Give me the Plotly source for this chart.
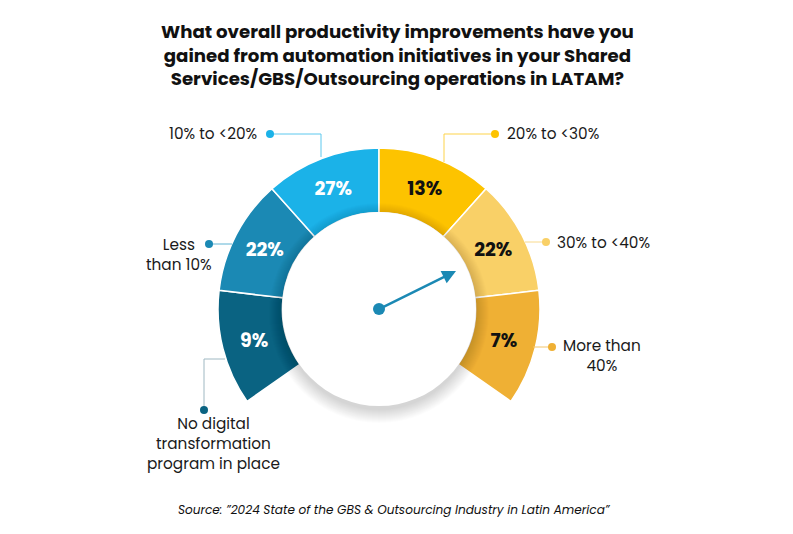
import plotly.graph_objects as go

# ---------------- data ----------------
categories = ["No digital transformation program in place", "Less than 10%",
              "10% to <20%", "20% to <30%", "30% to <40%", "More than 40%"]
shares = [9, 22, 27, 13, 22, 7]
# the graphic draws every answer as an equal-angle segment of a 250-degree gauge
segment_weights = [1, 1, 1, 1, 1, 1]
gap_weight = 2.64
label_texts = ["No digital<br>transformation<br>program in place", "Less<br>than 10%",
               "10% to &lt;20%", "20% to &lt;30%", "30% to &lt;40%", "More than<br>40%"]
title_text = ("What overall productivity improvements have you<br>"
              "gained from automation initiatives in your Shared<br>"
              "Services/GBS/Outsourcing operations in LATAM?")
source_text = "Source: \u201d2024 State of the GBS & Outsourcing Industry in Latin America\u201d"

# ---------------- styles ----------------
colors = ["#0a6382", "#1b89b4", "#1bb2e8", "#fdc300", "#f9d067", "#efb034"]
line_colors = ["#9fb8c2", "#5fb3d3", "#5cc8ee", "#fdd34a", "#f9da8c", "#f3c56a"]
text_colors = ["white", "white", "white", "#111111", "#111111", "#111111"]
W, H = 793, 534
CX, CY, R = 379, 309, 161
FONT = "Poppins, Inter, 'Open Sans', sans-serif"


def px(x):
    return x / W


def py(y):
    return 1 - y / H


fig = go.Figure()
fig.add_trace(go.Pie(
    values=segment_weights + [gap_weight],
    labels=categories + ["gap"],
    text=[f"{s}%" for s in shares] + [""],
    textinfo="text",
    textposition="inside",
    insidetextorientation="horizontal",
    insidetextfont=dict(family=FONT, size=19, color=text_colors + ["white"], weight="bold"),
    marker=dict(colors=colors + ["rgba(0,0,0,0)"],
                line=dict(color=["white"] * 6 + ["rgba(0,0,0,0)"], width=1.5)),
    hole=0.6,
    sort=False,
    direction="clockwise",
    rotation=-125,
    hoverinfo="skip",
    showlegend=False,
    domain=dict(x=[px(CX - R), px(CX + R)], y=[py(CY + R), py(CY - R)]),
))

shapes = []
# soft shadow under the centre disc
for k in range(14):
    r = 97 + k
    shapes.append(dict(type="circle", xref="paper", yref="paper",
                       x0=px(CX - r), x1=px(CX + r), y0=py(CY + 4 + r), y1=py(CY + 4 - r),
                       fillcolor="rgba(0,0,0,0.011)", line=dict(width=0), layer="above"))
shapes.append(dict(type="circle", xref="paper", yref="paper",
                   x0=px(CX - 97), x1=px(CX + 97), y0=py(CY + 97), y1=py(CY - 97),
                   fillcolor="white", line=dict(width=0), layer="above"))
# centre dot
shapes.append(dict(type="circle", xref="paper", yref="paper",
                   x0=px(CX - 6), x1=px(CX + 6), y0=py(CY + 6), y1=py(CY - 6),
                   fillcolor="#1b89b4", line=dict(width=0), layer="above"))

# leader lines: (points, dot, index)
leaders = [
    ([(225, 359), (204, 359), (204, 410)], (204, 410), 0),
    ([(232, 244), (209, 244)], (209, 244), 1),
    ([(321, 157), (321, 134), (270, 134)], (270, 134), 2),
    ([(444, 162), (444, 134), (495, 134)], (495, 134), 3),
    ([(525, 242), (546, 242)], (546, 242), 4),
    ([(533, 347), (552, 347)], (552, 347), 5),
]
for pts, dot, i in leaders:
    path = "M " + " L ".join(f"{px(x)},{py(y)}" for x, y in pts)
    shapes.append(dict(type="path", xref="paper", yref="paper", path=path,
                       line=dict(color=line_colors[i], width=1), layer="above"))
    shapes.append(dict(type="circle", xref="paper", yref="paper",
                       x0=px(dot[0] - 4), x1=px(dot[0] + 4), y0=py(dot[1] + 4), y1=py(dot[1] - 4),
                       fillcolor=colors[i], line=dict(width=0), layer="above"))

annotations = []
# (x, centre y, anchor)
label_pos = [
    (213, 443, "center"),
    (179, 254, "center"),
    (259, 134, "right"),
    (505, 134, "left"),
    (555, 242, "left"),
    (602, 355, "center"),
]
for (x, y, xa), t in zip(label_pos, label_texts):
    annotations.append(dict(x=px(x), y=py(y), xref="paper", yref="paper", text=t,
                            showarrow=False, xanchor=xa, yanchor="middle", align="center",
                            font=dict(family=FONT, size=15.3, color="#1a1a1a")))

annotations.append(dict(x=px(397), y=py(55), xref="paper", yref="paper", text=title_text,
                        showarrow=False, xanchor="center", yanchor="middle", align="center",
                        font=dict(family=FONT, size=18.2, color="#111111", weight="bold")))
annotations.append(dict(x=px(394.5), y=py(509), xref="paper", yref="paper", text=source_text,
                        showarrow=False, xanchor="center", yanchor="middle",
                        font=dict(family=FONT, size=12.1, color="#111111", style="italic")))
# gauge needle
annotations.append(dict(x=px(456), y=py(271), xref="paper", yref="paper", text="",
                        showarrow=True, ax=CX - 456, ay=CY - 271, arrowhead=2, arrowsize=1.1,
                        arrowwidth=2.5, arrowcolor="#1b89b4", standoff=0, startstandoff=0))

fig.update_layout(width=W, height=H, margin=dict(l=0, r=0, t=0, b=0),
                  paper_bgcolor="white", plot_bgcolor="white",
                  shapes=shapes, annotations=annotations,
                  uniformtext=dict(minsize=19, mode="show"))
fig.write_html("out.html")
